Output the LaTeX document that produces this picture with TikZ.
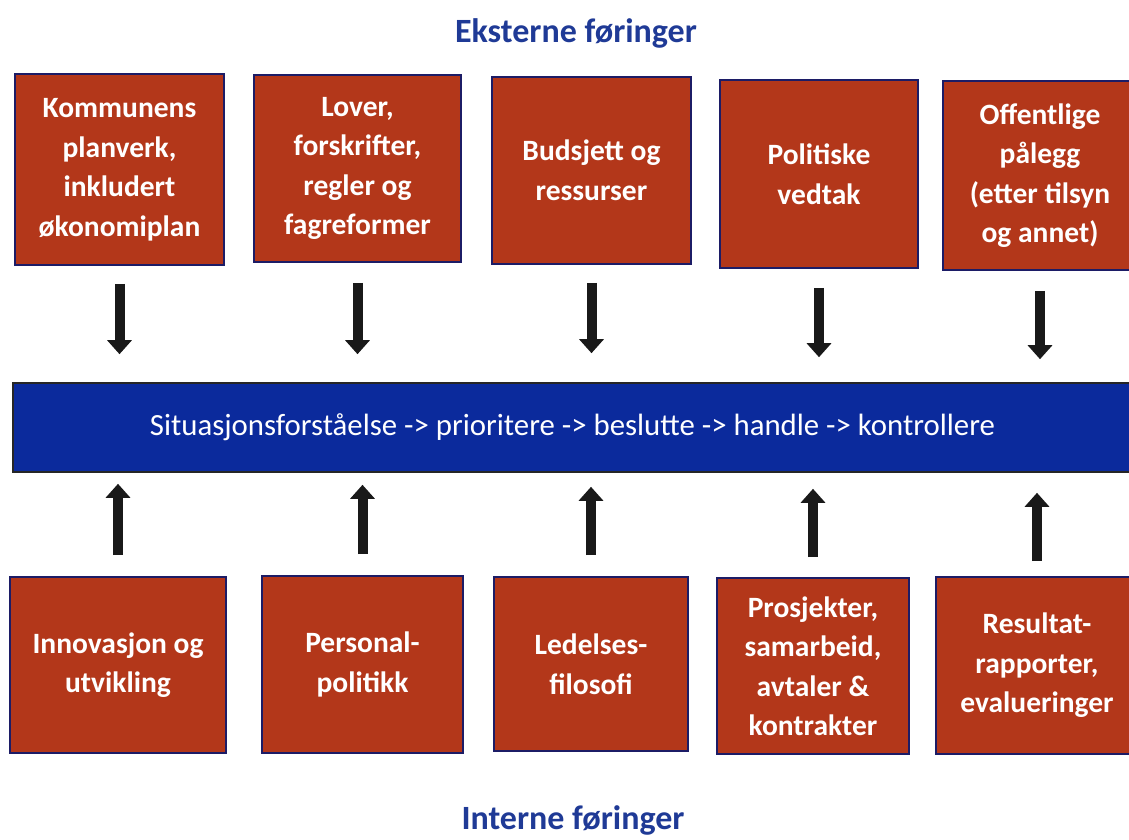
\documentclass[tikz,border=0pt]{standalone}
\usepackage{fontspec}
\setmainfont{Carlito}
\usetikzlibrary{arrows.meta}
\definecolor{Rust}{HTML}{B3371A}
\definecolor{Navy}{HTML}{1C1C66}
\definecolor{Band}{HTML}{0B2A9C}
\definecolor{Heading}{HTML}{1F3A96}
\tikzset{
  flowarrow/.style={-{Triangle[length=14pt,width=24pt]},line width=10pt,draw=black!90},
  boxbase/.style={rectangle,draw=Navy,line width=1.6pt,fill=Rust,text=white,align=center,
    inner sep=0pt,font=\fontsize{29.5}{39.5}\selectfont\bfseries},
  bandbase/.style={rectangle,draw=black!85,line width=1.6pt,fill=Band,text=white,
    inner sep=0pt,font=\fontsize{30.8}{36}\selectfont},
  headtext/.style={anchor=base,text=Heading,font=\fontsize{34}{40}\selectfont\bfseries},
}

\begin{document}
\begin{tikzpicture}[x=1pt,y=-1pt]
        \useasboundingbox[fill=white] (0,0) rectangle (1129,839);
        \node[headtext] (ext) at (576,42) {Eksterne føringer};
        \node[headtext] (int) at (573,829) {Interne føringer};
        % eksterne
        \node[boxbase,minimum width=209pt,minimum height=191pt] (t1) at (119.5,169.5) {Kommunens\\planverk,\\inkludert\\økonomiplan};
        \node[boxbase,minimum width=207pt,minimum height=187pt] (t2) at (357.5,168.5) {Lover,\\forskrifter,\\regler og\\fagreformer};
        \node[boxbase,minimum width=199pt,minimum height=187pt] (t3) at (591.5,170.5) {Budsjett og\\ressurser};
        \node[boxbase,minimum width=198pt,minimum height=188pt] (t4) at (819,174) {Politiske\\vedtak};
        \node[boxbase,minimum width=194pt,minimum height=189pt] (t5) at (1040,175.5) {Offentlige\\pålegg\\(etter tilsyn\\og annet)};
        % prosess
        \node[bandbase,minimum width=1119pt,minimum height=89pt] (band) at (572.5,427.5) {Situasjonsforståelse -> prioritere -> beslutte -> handle -> kontrollere};
        % interne
        \node[boxbase,minimum width=216pt,minimum height=176pt] (b1) at (118,665) {Innovasjon og\\utvikling};
        \node[boxbase,minimum width=201pt,minimum height=177pt] (b2) at (362.5,664.5) {Personal-\\politikk};
        \node[boxbase,minimum width=194pt,minimum height=174pt] (b3) at (591,664) {Ledelses-\\filosofi};
        \node[boxbase,minimum width=192pt,minimum height=176pt] (b4) at (813,666) {Prosjekter,\\samarbeid,\\avtaler \&\\kontrakter};
        \node[boxbase,minimum width=202pt,minimum height=177pt] (b5) at (1037,665.5) {Resultat-\\rapporter,\\evalueringer};
        \draw[flowarrow,shorten <=18pt,shorten >=28pt] (t1.south) -- (t1.south |- band.north);
        \draw[flowarrow,shorten <=20pt,shorten >=28pt] (t2.south) -- (t2.south |- band.north);
        \draw[flowarrow,shorten <=18pt,shorten >=29pt] (t3.south) -- (t3.south |- band.north);
        \draw[flowarrow,shorten <=19pt,shorten >=25pt] (t4.south) -- (t4.south |- band.north);
        \draw[flowarrow,shorten <=20pt,shorten >=23pt] (t5.south) -- (t5.south |- band.north);
        \draw[flowarrow,shorten <=21pt,shorten >=11pt] (b1.north) -- (b1.north |- band.south);
        \draw[flowarrow,shorten <=21pt,shorten >=12pt] (b2.north) -- (b2.north |- band.south);
        \draw[flowarrow,shorten <=21pt,shorten >=14pt] (b3.north) -- (b3.north |- band.south);
        \draw[flowarrow,shorten <=20pt,shorten >=16pt] (b4.north) -- (b4.north |- band.south);
        \draw[flowarrow,shorten <=15pt,shorten >=20pt] (b5.north) -- (b5.north |- band.south);
      \end{tikzpicture}
\end{document}
